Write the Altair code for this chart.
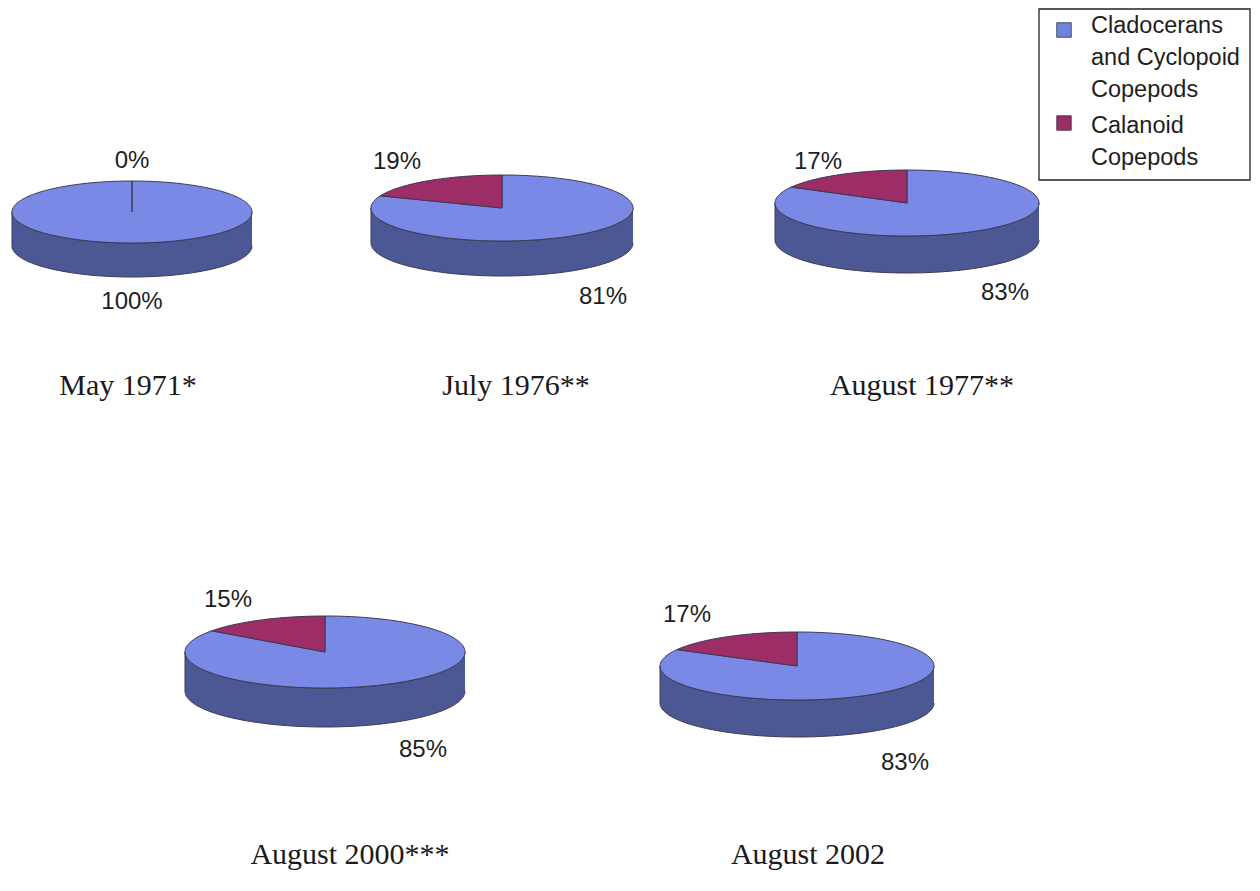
import math
import altair as alt
import pandas as pd

# ---------------- data ----------------
titles = ["May 1971*", "July 1976**", "August 1977**", "August 2000***", "August 2002"]
cladocerans_pct = [100, 81, 83, 85, 83]
calanoid_pct = [0, 19, 17, 15, 17]
categories = ["Cladocerans and Cyclopoid Copepods", "Calanoid Copepods"]
legend_labels = ["Cladocerans\nand Cyclopoid\nCopepods", "Calanoid\nCopepods"]

# ---------------- layout (page pixels) ----------------
pie_cx = [132, 502, 907, 325, 797]
pie_cy = [212, 208, 203, 652, 666]
pie_rx = [120, 131, 132, 140, 137]
pie_ry = [31, 33, 33, 36, 34]
pie_depth = [34, 35, 37, 39, 37]
title_x = [128, 516, 922, 350, 808]
title_y = [395, 395, 395, 864, 864]
top_lab_x = [132, 397, 818, 228, 687]
top_lab_y = [161, 162, 162, 600, 615]
bot_lab_x = [132, 603, 1005, 423, 905]
bot_lab_y = [302, 297, 293, 750, 763]
legend_sq_x = [1064, 1064]
legend_sq_y = [30, 123]
legend_txt_x = [1091, 1091]
legend_txt_y = [33, 133]

TOP_BLUE = "#7b89e6"
SIDE_BLUE = "#4c5893"
RED = "#9c2d66"
EDGE = "#3a3b52"

W, H = 1244, 875
xs = alt.Scale(domain=[8, 8 + W])
ys = alt.Scale(domain=[8, 8 + H], reverse=True)


def arc_points(cx, cy, rx, ry, t0, t1, n):
    pts = []
    for k in range(n + 1):
        t = t0 + (t1 - t0) * k / n
        pts.append((cx + rx * math.cos(t), cy + ry * math.sin(t)))
    return pts


side_rows, blue_rows, red_rows = [], [], []
for i in range(len(titles)):
    cx, cy, rx, ry, d = pie_cx[i], pie_cy[i], pie_rx[i], pie_ry[i], pie_depth[i]
    p_red = calanoid_pct[i] / 100.0
    p_blue = cladocerans_pct[i] / 100.0
    # side band: front half of top rim, then front half of bottom rim back
    pts = arc_points(cx, cy, rx, ry, 0, math.pi, 90)
    pts += arc_points(cx, cy + d, rx, ry, math.pi, 0, 90)
    for k, (x, y) in enumerate(pts):
        side_rows.append({"pie": i, "k": k, "x": x, "y": y})
    # blue slice on top (clockwise from 12 o'clock)
    start = -math.pi / 2
    n = max(2, int(180 * p_blue))
    pts = [(cx, cy)] + arc_points(cx, cy, rx, ry, start, start + 2 * math.pi * p_blue, n) + [(cx, cy)]
    for k, (x, y) in enumerate(pts):
        blue_rows.append({"pie": i, "k": k, "x": x, "y": y, "cat": categories[0]})
    # red slice on top (counter-clockwise from 12 o'clock)
    if p_red > 0:
        n = max(2, int(180 * p_red))
        pts = [(cx, cy)] + arc_points(cx, cy, rx, ry, start, start - 2 * math.pi * p_red, n) + [(cx, cy)]
        for k, (x, y) in enumerate(pts):
            red_rows.append({"pie": i, "k": k, "x": x, "y": y, "cat": categories[1]})

side_df = pd.DataFrame(side_rows)
blue_df = pd.DataFrame(blue_rows)
red_df = pd.DataFrame(red_rows)


def poly(df, fill):
    return alt.Chart(df).mark_line(fill=fill, stroke=EDGE, strokeWidth=1, strokeJoin="round").encode(
        x=alt.X("x:Q", scale=xs, axis=None),
        y=alt.Y("y:Q", scale=ys, axis=None),
        detail="pie:N",
        order="k:Q",
    )


title_df = pd.DataFrame({"t": titles, "x": title_x, "y": title_y})
titles_layer = alt.Chart(title_df).mark_text(
    font="Liberation Serif", fontSize=30, color="#1a1a1a", align="center", baseline="alphabetic"
).encode(x=alt.X("x:Q", scale=xs, axis=None), y=alt.Y("y:Q", scale=ys, axis=None), text="t:N")

top_df = pd.DataFrame({"t": [f"{v}%" for v in calanoid_pct], "x": top_lab_x, "y": top_lab_y})
bot_df = pd.DataFrame({"t": [f"{v}%" for v in cladocerans_pct], "x": bot_lab_x, "y": bot_lab_y})
lab_kw = dict(font="Liberation Sans", fontSize=24, color="#1e1e1e", align="center", baseline="middle")
top_layer = alt.Chart(top_df).mark_text(**lab_kw).encode(
    x=alt.X("x:Q", scale=xs, axis=None), y=alt.Y("y:Q", scale=ys, axis=None), text="t:N")
bot_layer = alt.Chart(bot_df).mark_text(**lab_kw).encode(
    x=alt.X("x:Q", scale=xs, axis=None), y=alt.Y("y:Q", scale=ys, axis=None), text="t:N")

# legend
leg_df = pd.DataFrame({"cat": categories, "label": legend_labels,
                       "sx": legend_sq_x, "sy": legend_sq_y,
                       "tx": legend_txt_x, "ty": legend_txt_y})
leg_box = alt.Chart(pd.DataFrame({"x": [1039], "x2": [1250], "y": [9], "y2": [180]})).mark_rect(
    fill="white", stroke="#222", strokeWidth=1.3
).encode(x=alt.X("x:Q", scale=xs, axis=None), x2="x2:Q",
         y=alt.Y("y:Q", scale=ys, axis=None), y2="y2:Q")
leg_sq = alt.Chart(leg_df).mark_square(size=210, opacity=1, stroke="#333", strokeWidth=0.8).encode(
    x=alt.X("sx:Q", scale=xs, axis=None), y=alt.Y("sy:Q", scale=ys, axis=None),
    fill=alt.Fill("cat:N", scale=alt.Scale(domain=categories, range=["#6f83e0", RED]), legend=None),
)
leg_txt = alt.Chart(leg_df).mark_text(
    font="Liberation Sans", fontSize=23.5, color="#1e1e1e", align="left", baseline="alphabetic",
    lineBreak="\n", lineHeight=32
).encode(x=alt.X("tx:Q", scale=xs, axis=None), y=alt.Y("ty:Q", scale=ys, axis=None), text="label:N")

chart = alt.layer(
    poly(side_df, SIDE_BLUE),
    poly(blue_df, TOP_BLUE),
    poly(red_df, RED),
    titles_layer, top_layer, bot_layer,
    leg_box, leg_sq, leg_txt,
).properties(
    width=W, height=H, padding=0, autosize=alt.AutoSizeParams(type="none"),
    background="white"
).configure_view(stroke=None)

chart.save("out.html", embed_options={"renderer": "svg", "actions": False})
